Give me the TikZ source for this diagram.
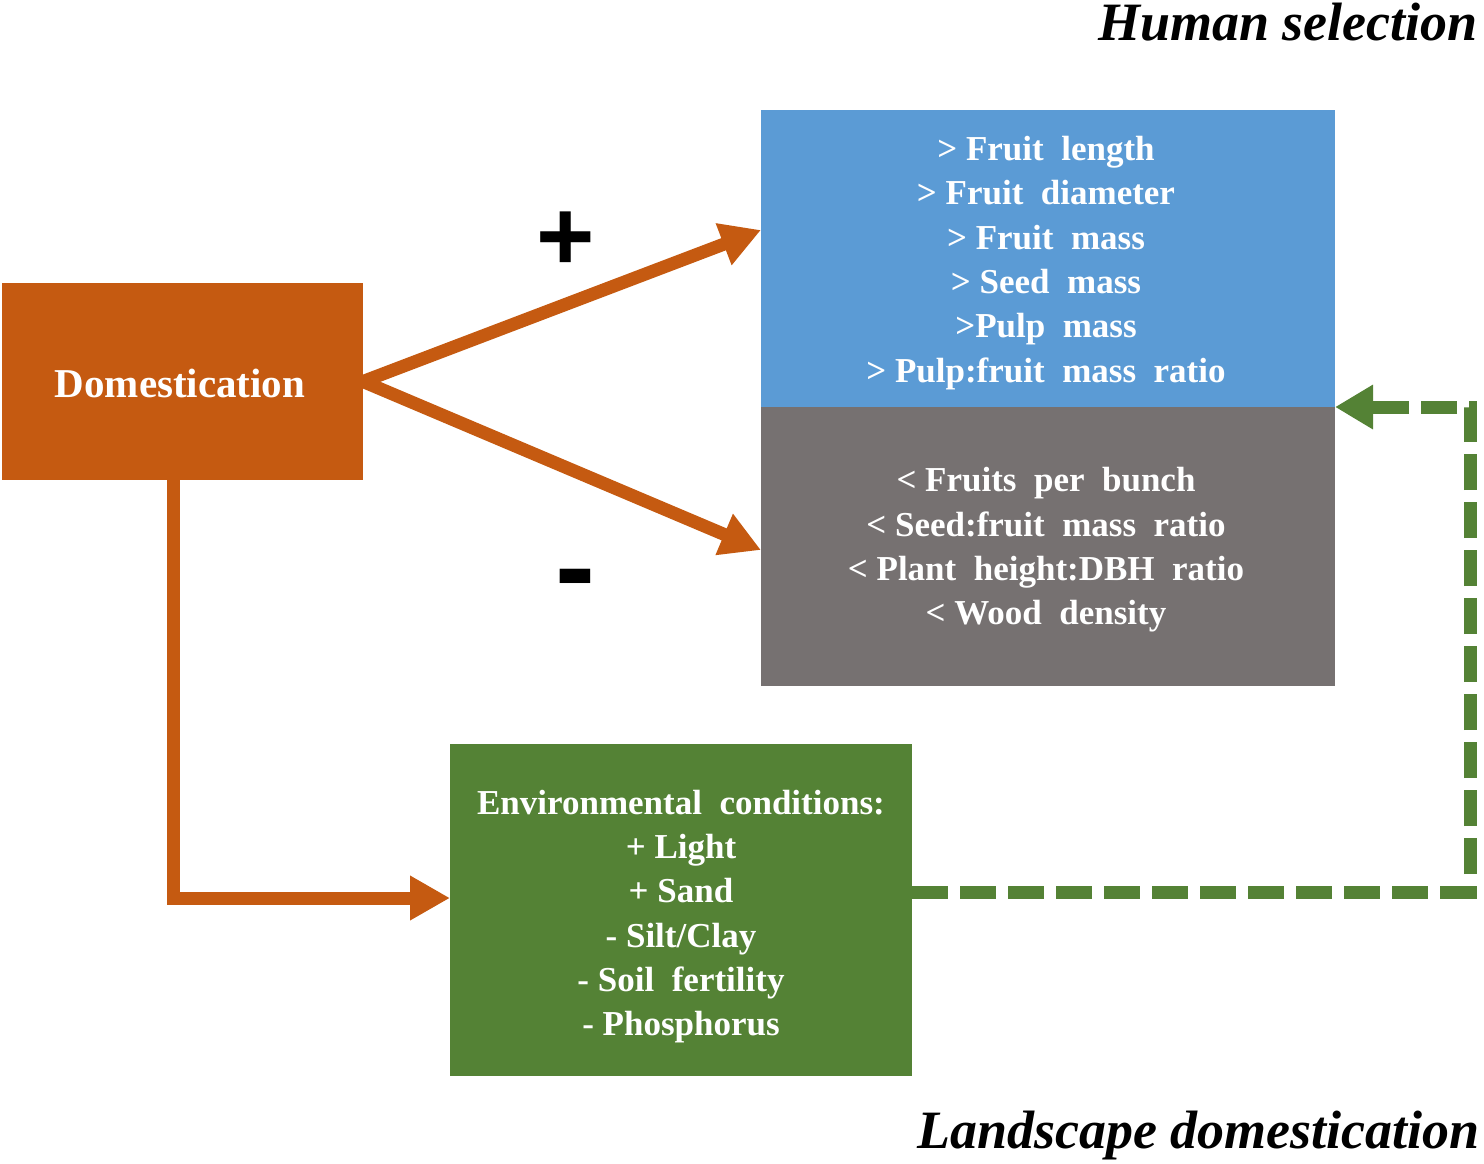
\documentclass[tikz,border=0pt]{standalone}
\usepackage{fontspec}
\setmainfont{Liberation Serif}
\newfontfamily\signfont{Liberation Sans}
\usetikzlibrary{arrows.meta,calc}
\definecolor{domorange}{HTML}{C55A11}
\definecolor{selblue}{HTML}{5B9BD5}
\definecolor{selgray}{HTML}{767171}
\definecolor{envgreen}{HTML}{548235}
\tikzset{
  box/.style={inner sep=0pt, outer sep=0pt, draw=none},
  boxtext/.style={text=white, font=\bfseries\fontsize{35}{44.3}\selectfont, align=center, inner sep=0pt},
  orangearrow/.style={draw=domorange, line width=13pt, -{Triangle[length=40pt,width=42pt]}},
  greendash/.style={draw=envgreen, line width=13pt, dash pattern=on 36pt off 12pt, -{Triangle[length=38pt,width=42pt]}},
  caption/.style={font=\bfseries\itshape\fontsize{54}{60}\selectfont, inner sep=0pt, anchor=base east, text height=37pt, text depth=0pt},
  sign/.style={font=\signfont\bfseries, inner sep=0pt}
}
\begin{document}
\begin{tikzpicture}[x=1pt,y=-1pt]
\useasboundingbox (0,0) rectangle (1484,1163);
% boxes
\node[box, fill=domorange, minimum width=361pt, minimum height=197pt] (dom) at (182.5,381.5) {};
\node[box, fill=selblue, minimum width=574pt, minimum height=297pt] (blue) at (1048,258.5) {};
\node[box, fill=selgray, minimum width=574pt, minimum height=279pt] (gray) at (1048,546.5) {};
\node[box, fill=envgreen, minimum width=462pt, minimum height=332pt] (green) at (681,910) {};
% texts
\node[text=white, font=\bfseries\fontsize{41}{44}\selectfont, inner sep=0pt] (domtext) at (180,383) {Domestication};
\node[boxtext] (bluetext) at (1046,263) {> Fruit\ \ length\\> Fruit\ \ diameter\\> Fruit\ \ mass\\> Seed\ \ mass\\>Pulp\ \ mass\\> Pulp:fruit\ \ mass\ \ ratio};
\node[boxtext] (graytext) at (1046,550) {< Fruits\ \ per\ \ bunch\\< Seed:fruit\ \ mass\ \ ratio\\< Plant\ \ height:DBH\ \ ratio\\< Wood\ \ density};
\node[boxtext] (greentext) at (681,916.5) {Environmental\ \ conditions:\\+ Light\\+ Sand\\- Silt/Clay\\- Soil\ \ fertility\\- Phosphorus};
% captions
\node[caption] (hs) at (1478,40) {Human selection};
\node[caption] (ld) at (1480,1148) {Landscape domestication};
% signs
\node[sign, font=\signfont\bfseries\fontsize{100}{100}\selectfont] (plus) at (566,241) {+};
\node[sign, font=\signfont\bfseries\fontsize{120}{120}\selectfont] (minus) at (575,588) {-};
% connectors
\draw[orangearrow] (dom.east) -- ([yshift=28.5pt]blue.west);
\draw[orangearrow] (dom.east) -- ([yshift=-3.5pt]gray.west);
\draw[orangearrow] ([xshift=-9.5pt]dom.south) |- ([yshift=12pt]green.west);
\coordinate (turn) at (1470,407);
\draw[greendash] ([yshift=18pt]green.east) -| (turn) -- (blue.south east);
\end{tikzpicture}
\end{document}
